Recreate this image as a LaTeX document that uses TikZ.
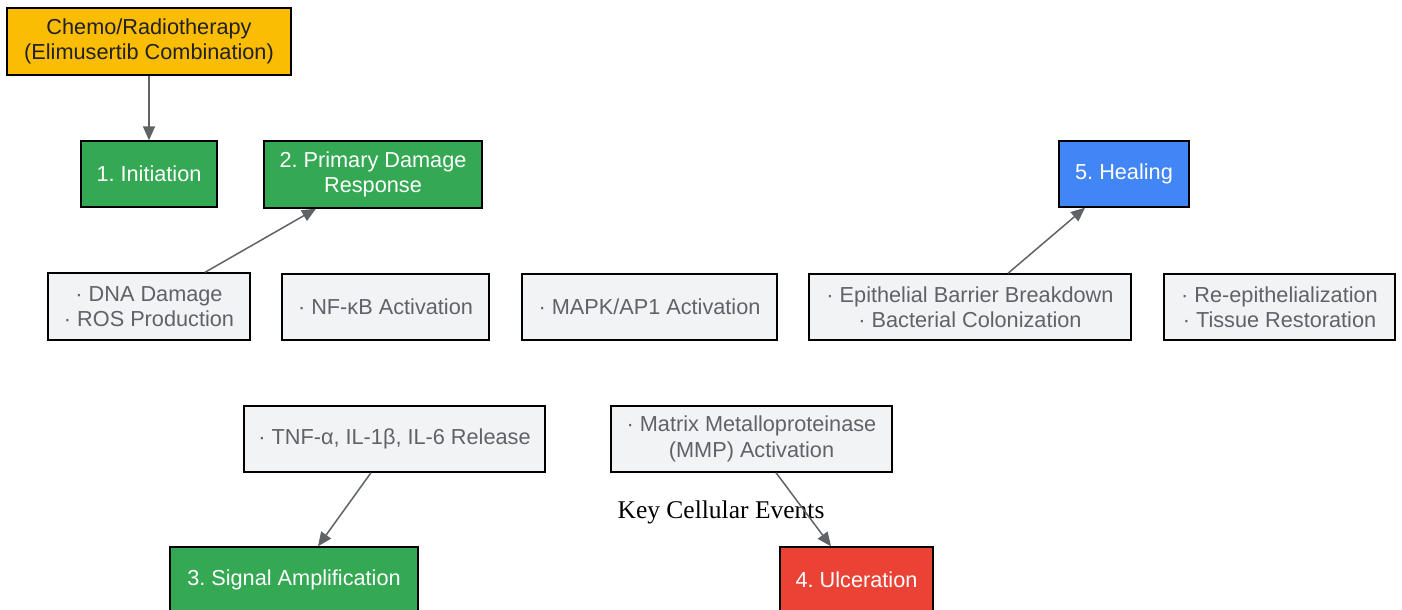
\documentclass[tikz,border=0pt]{standalone}
\usepackage{fontspec}
\setmainfont{Liberation Sans}
\newfontfamily\serifkey{Liberation Serif}
\usetikzlibrary{arrows.meta}
\frenchspacing
\definecolor{cgold}{HTML}{FBBC04}
\definecolor{cgreen}{HTML}{34A853}
\definecolor{cblue}{HTML}{4285F4}
\definecolor{cred}{HTML}{EA4335}
\definecolor{cgrayfill}{HTML}{F1F3F4}
\definecolor{cgraytext}{HTML}{5F6368}
\definecolor{cdark}{HTML}{202124}
\tikzset{
  box/.style={draw=black, line width=1.4pt, inner sep=0pt, align=center,
    font=\fontsize{21.7}{25.5}\selectfont\frenchspacing},
  stage/.style={box, fill=cgreen, text=white},
  event/.style={box, fill=cgrayfill, text=cgraytext},
  conn/.style={draw=cgraytext, line width=1.5pt, -{Triangle[length=14pt,width=12pt]}}
}
\begin{document}
\begin{tikzpicture}[x=1pt,y=1pt]
\useasboundingbox (0,0) rectangle (1402,-610);
\clip (0,0) rectangle (1402,-610);
\fill[white] (0,0) rectangle (1402,-610);

\node[box, fill=cgold, text=cdark, minimum width=284pt, minimum height=67pt] (chemo) at (149,-41.5) {Chemo/Radiotherapy\\(Elimusertib Combination)};
\node[stage, minimum width=136pt, minimum height=66pt] (init) at (149,-174) {1. Initiation};
\node[stage, minimum width=218pt, minimum height=67pt] (primary) at (373,-174.5) {2. Primary Damage\\Response};
\node[box, fill=cblue, text=white, minimum width=130pt, minimum height=66pt] (heal) at (1124,-174) {5. Healing};

\node[event, minimum width=202pt, minimum height=67pt] (dna) at (149,-306.5) {· DNA Damage\\· ROS Production};
\node[event, minimum width=207pt, minimum height=66pt] (nfkb) at (385.5,-307) {· NF-κB Activation};
\node[event, minimum width=255pt, minimum height=66pt] (mapk) at (649.5,-307) {· MAPK/AP1 Activation};
\node[event, minimum width=322pt, minimum height=66pt] (epi) at (970,-307) {· Epithelial Barrier Breakdown\\· Bacterial Colonization};
\node[event, minimum width=231pt, minimum height=66pt] (reepi) at (1279.5,-307) {· Re-epithelialization\\· Tissue Restoration};

\node[event, minimum width=301pt, minimum height=66pt] (tnf) at (394.5,-439) {· TNF-α, IL-1β, IL-6 Release};
\node[event, minimum width=281pt, minimum height=66pt] (mmp) at (751.5,-439) {· Matrix Metalloproteinase\\(MMP) Activation};

\node[stage, minimum width=248pt, minimum height=66pt] (signal) at (294,-580) {3. Signal Amplification};
\node[box, fill=cred, text=white, minimum width=153pt, minimum height=66pt] (ulcer) at (856.5,-580) {4. Ulceration};

\node[font=\serifkey\fontsize{25.5}{29}\selectfont, text=black, inner sep=0pt] (key) at (721,-512) {Key Cellular Events};

\draw[conn] (chemo.south) -- (init.north);
\draw[conn] ([xshift=56pt]dna.north) -- ([xshift=-57pt]primary.south);
\draw[conn] ([xshift=38pt]epi.north) -- ([xshift=-39pt]heal.south);
\draw[conn] ([xshift=-23.5pt]tnf.south) -- ([xshift=24pt]signal.north);
\draw[conn] ([xshift=24.5pt]mmp.south) -- ([xshift=-25.5pt]ulcer.north);
\end{tikzpicture}
\end{document}
